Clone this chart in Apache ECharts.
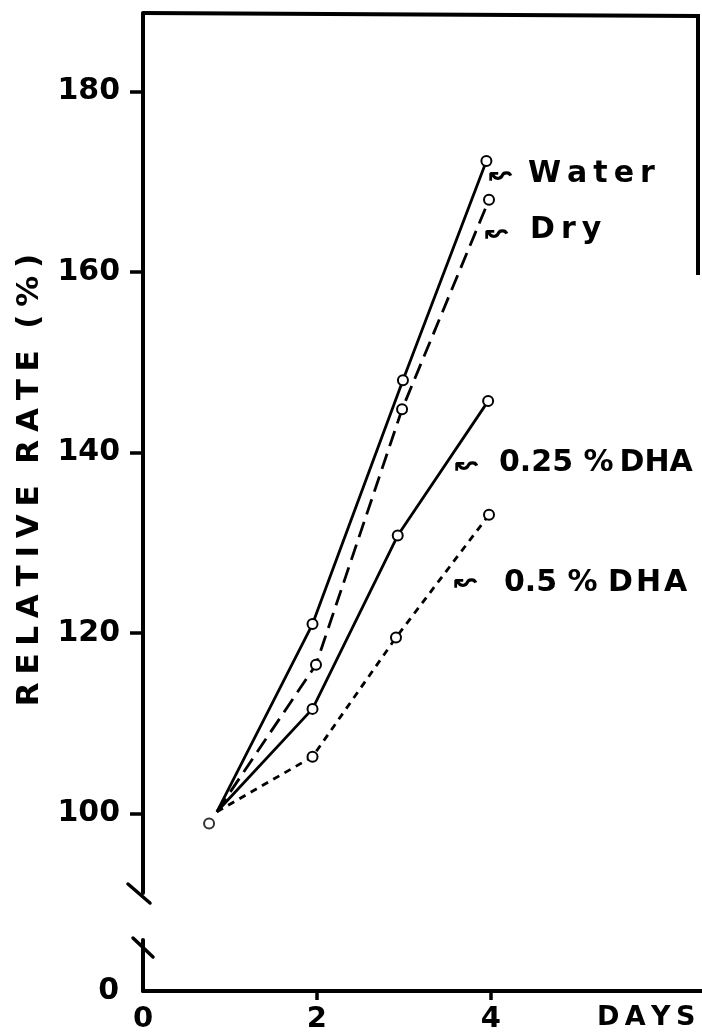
<!DOCTYPE html>
<html>
<head>
<meta charset="utf-8">
<script src="https://cdn.jsdelivr.net/npm/echarts@6/dist/echarts.min.js"></script>
<style>
html, body { margin: 0; padding: 0; background: #fff; }
#chart { width: 702px; height: 1034px; }
</style>
</head>
<body>
<div id="chart"></div>
<script>
// values (x = days, y = relative rate %)
const startPoint = [0.85, 100.2];   // where the four lines meet
const startCircle = [0.76, 98.9];   // lone open circle just below it

const waterDays = [1.95, 2.99, 3.95];
const waterRate = [121.0, 148.0, 172.3];
const dryDays = [1.99, 2.98, 3.98];
const dryRate = [116.5, 144.8, 168.0];
const dha025Days = [1.95, 2.93, 3.97];
const dha025Rate = [111.6, 130.8, 145.7];
const dha05Days = [1.95, 2.91, 3.98];
const dha05Rate = [106.3, 119.5, 133.1];

const yTicks = [100, 120, 140, 160, 180];
const yLowTicks = [0];
const xLabels = [0, 2, 4];
const xTicks = [2, 4];

const FONT = 'DejaVu Sans';
const INK = '#000';

function points(days, rate) {
    return [{ value: startPoint, symbol: 'none' }].concat(days.map((d, i) => [d, rate[i]]));
}

function lineSeries(name, days, rate, dash) {
    return {
        name: name,
        type: 'line',
        xAxisIndex: 0,
        yAxisIndex: 0,
        data: points(days, rate),
        symbol: 'emptyCircle',
        symbolSize: 10,
        itemStyle: { color: INK, borderWidth: 2.6 },
        lineStyle: { color: INK, width: 2.8, type: dash },
        z: 3
    };
}

const chart = echarts.init(document.getElementById('chart'));

const tag = (text, x, y, size) => ({
    type: 'text',
    x: x, y: y,
    style: {
        text: text, fill: INK,
        font: 'bold ' + size + 'px "' + FONT + '"',
        textVerticalAlign: 'middle'
    }
});
const seg = (x1, y1, x2, y2) => ({
    type: 'line',
    shape: { x1: x1, y1: y1, x2: x2, y2: y2 },
    style: { stroke: INK, lineWidth: 3.5, lineCap: 'round' }
});

const sp = '\u2005';
const spaced = s => s.split('').join(sp);

chart.setOption({
    animation: false,
    backgroundColor: '#fff',
    grid: [
        { left: 143, top: 13, width: 559, height: 880 },
        { left: 143, top: 940, width: 559, height: 52 }
    ],
    xAxis: [
        {
            gridIndex: 0, type: 'value', min: 0, max: 6.43,
            axisLine: { show: false }, axisTick: { show: false },
            axisLabel: { show: false }, splitLine: { show: false }
        },
        {
            gridIndex: 1, type: 'value', min: 0, max: 6.43,
            axisLine: { lineStyle: { color: INK, width: 4 } },
            axisTick: { customValues: xTicks, length: 9, lineStyle: { color: INK, width: 3.5 } },
            axisLabel: {
                customValues: xLabels, margin: 14, color: INK,
                fontFamily: FONT, fontWeight: 'bold', fontSize: 29
            },
            splitLine: { show: false }
        }
    ],
    yAxis: [
        {
            gridIndex: 0, type: 'value', min: 91.2, max: 188.7,
            axisLine: { lineStyle: { color: INK, width: 4 } },
            axisTick: { customValues: yTicks, length: 13, lineStyle: { color: INK, width: 3.5 } },
            axisLabel: {
                customValues: yTicks, margin: 23, color: INK,
                fontFamily: FONT, fontWeight: 'bold', fontSize: 30
            },
            splitLine: { show: false }
        },
        {
            gridIndex: 1, type: 'value', min: 0, max: 5.76,
            axisLine: { lineStyle: { color: INK, width: 4 } },
            axisTick: { show: false },
            axisLabel: {
                customValues: yLowTicks, margin: 24, color: INK,
                fontFamily: FONT, fontWeight: 'bold', fontSize: 30
            },
            splitLine: { show: false }
        }
    ],
    series: [
        lineSeries('Water', waterDays, waterRate, 'solid'),
        lineSeries('Dry', dryDays, dryRate, [16, 8]),
        lineSeries('0.25 % DHA', dha025Days, dha025Rate, 'solid'),
        lineSeries('0.5 % DHA', dha05Days, dha05Rate, [7, 6]),
        {
            name: 'start',
            type: 'scatter',
            xAxisIndex: 0,
            yAxisIndex: 0,
            data: [startCircle],
            symbol: 'emptyCircle',
            symbolSize: 10,
            itemStyle: { color: INK, borderWidth: 2.6 }
        }
    ],
    graphic: [
        // frame along the top and down the right side
        {
            type: 'polyline',
            shape: { points: [[143, 13], [698, 16], [698, 275]] },
            style: { stroke: INK, lineWidth: 4, fill: null }
        },
        // axis break marks
        seg(128, 884, 150, 903),
        seg(133, 938, 153, 957),
        // series labels
        tag('\u219C', 489, 176, 28),
        tag('W\u2009a\u2009t\u2009e\u2009r', 528, 174, 30),
        tag('\u219C', 485, 234, 28),
        tag('D\u2009r\u2009y', 530, 230, 30),
        tag('\u219C', 455, 466, 28),
        tag('0.25 %\u2009DHA', 499, 463, 30),
        tag('\u219C', 454, 583, 28),
        tag('0.5 % D\u200AH\u200AA', 504, 583, 30),
        tag('D\u2009A\u2009Y\u2009S', 597, 1018, 27),
        {
            type: 'text',
            x: 30, y: 480,
            rotation: Math.PI / 2,
            style: {
                text: spaced('RELATIVE') + '  ' + spaced('RATE') + '  ' + spaced('(%)'),
                fill: INK,
                font: 'bold 31px "' + FONT + '"',
                textAlign: 'center',
                textVerticalAlign: 'middle'
            }
        }
    ]
});
</script>
</body>
</html>
